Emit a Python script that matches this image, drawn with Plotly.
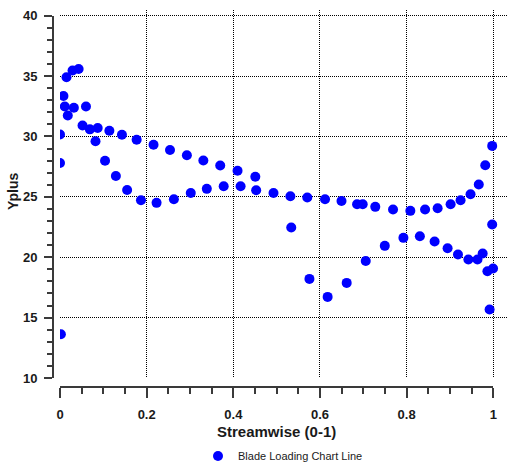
import plotly.graph_objects as go

# Streamwise position (0-1) and Yplus values
streamwise = [0.000, 0.000, 0.002, 0.008, 0.011, 0.018, 0.015, 0.029, 0.043, 0.032,
              0.060, 0.052, 0.069, 0.087, 0.082, 0.114, 0.104, 0.143, 0.129, 0.177,
              0.155, 0.216, 0.187, 0.254, 0.223, 0.293, 0.263, 0.331, 0.302, 0.370,
              0.339, 0.410, 0.378, 0.451, 0.417, 0.453, 0.493, 0.532, 0.534, 0.571,
              0.576, 0.612, 0.618, 0.650, 0.662, 0.686, 0.699, 0.706, 0.728, 0.750,
              0.769, 0.793, 0.809, 0.831, 0.843, 0.865, 0.872, 0.895, 0.902, 0.919,
              0.925, 0.943, 0.948, 0.964, 0.967, 0.976, 0.982, 0.987, 1.000, 0.992,
              0.998, 0.998]
yplus = [30.17, 27.82, 13.63, 33.37, 32.50, 31.75, 34.92, 35.48, 35.60, 32.39,
         32.50, 30.92, 30.60, 30.72, 29.62, 30.49, 28.00, 30.16, 26.74, 29.74,
         25.57, 29.33, 24.73, 28.89, 24.51, 28.46, 24.81, 28.02, 25.33, 27.61,
         25.67, 27.17, 25.89, 26.67, 25.89, 25.56, 25.33, 25.06, 22.47, 24.95,
         18.21, 24.81, 16.72, 24.67, 17.88, 24.40, 24.40, 19.70, 24.18, 20.95,
         23.96, 21.61, 23.85, 21.75, 23.96, 21.31, 24.07, 20.75, 24.40, 20.23,
         24.73, 19.82, 25.23, 19.82, 26.03, 20.32, 27.63, 18.85, 19.07, 15.68,
         22.72, 29.23]

series_name = "Blade Loading Chart Line"
x_title = "Streamwise (0-1)"
y_title = "Yplus"

W, H = 508, 466
def px_x(p):
    return p / W
def px_y(p):
    return 1 - p / H

AXIS_COLOR = "#3a3a3a"
TXT = "#1a1a1a"
FONT = "Liberation Sans"
GRID = dict(showgrid=True, gridcolor="#000000", gridwidth=1, griddash="1px,1px",
            zeroline=False, showline=False, ticks="", showticklabels=False)

fig = go.Figure()
# invisible copy on the offset axes so they are drawn (added first so it sits below)
fig.add_trace(go.Scatter(
    x=streamwise, y=yplus, mode="markers", showlegend=False, hoverinfo="skip",
    marker=dict(size=10, color="rgba(0,0,0,0)"), xaxis="x2", yaxis="y2",
))
fig.add_trace(go.Scatter(
    x=streamwise, y=yplus, mode="markers", name=series_name,
    marker=dict(symbol="circle", size=10, color="#0000FF", line=dict(width=0)),
    xaxis="x", yaxis="y",
))

fig.update_layout(
    width=W, height=H,
    margin=dict(l=0, r=0, t=0, b=0, autoexpand=False),
    paper_bgcolor="white", plot_bgcolor="rgba(0,0,0,0)",
    font=dict(family=FONT, color=TXT),
    xaxis=dict(domain=[px_x(60), 1.0], range=[0, 1.0345], dtick=0.2, tick0=0,
               anchor="y", **GRID),
    yaxis=dict(domain=[px_y(378), px_y(10)], range=[10, 40.49], dtick=5, tick0=10,
               anchor="x", **GRID),
    xaxis2=dict(domain=[px_x(60), px_x(493.3)], range=[0, 1], anchor="free",
                position=px_y(387), showgrid=False, zeroline=False,
                showline=True, linecolor=AXIS_COLOR, linewidth=2,
                ticks="outside", ticklen=10, tickwidth=1.5, tickcolor=AXIS_COLOR,
                dtick=0.2, tick0=0, ticklabelstandoff=5,
                minor=dict(dtick=0.05, ticklen=6, tickwidth=1.5, tickcolor=AXIS_COLOR, ticks="outside", showgrid=False),
                tickfont=dict(family=FONT, size=13, color=TXT, weight="bold"),
                automargin=False),
    yaxis2=dict(domain=[px_y(378), px_y(15.7)], range=[10, 40], anchor="free",
                position=px_x(53), showgrid=False, zeroline=False,
                showline=True, linecolor=AXIS_COLOR, linewidth=2,
                ticks="outside", ticklen=8, tickwidth=1.5, tickcolor=AXIS_COLOR,
                dtick=5, tick0=10, ticklabelstandoff=4,
                minor=dict(dtick=1, ticklen=5, tickwidth=1.5, tickcolor=AXIS_COLOR, ticks="outside", showgrid=False),
                tickfont=dict(family=FONT, size=13, color=TXT, weight="bold"),
                automargin=False),
    annotations=[
        dict(text=x_title, xref="paper", yref="paper", x=px_x(276.6), y=px_y(431),
             xanchor="center", yanchor="middle", showarrow=False,
             font=dict(family=FONT, size=15, color=TXT, weight="bold")),
        dict(text=y_title, xref="paper", yref="paper", x=px_x(13), y=px_y(191),
             xanchor="center", yanchor="middle", showarrow=False, textangle=-90,
             font=dict(family=FONT, size=14, color=TXT, weight="bold")),
    ],
    showlegend=True,
    legend=dict(orientation="h", x=px_x(198), xanchor="left", y=px_y(456), yanchor="middle",
                font=dict(family=FONT, size=11, color=TXT), bgcolor="rgba(0,0,0,0)",
                borderwidth=0),
)

fig.write_html("out.html", config={"displayModeBar": False},
               post_script="document.body.style.margin='0px';document.body.style.overflow='hidden';")
